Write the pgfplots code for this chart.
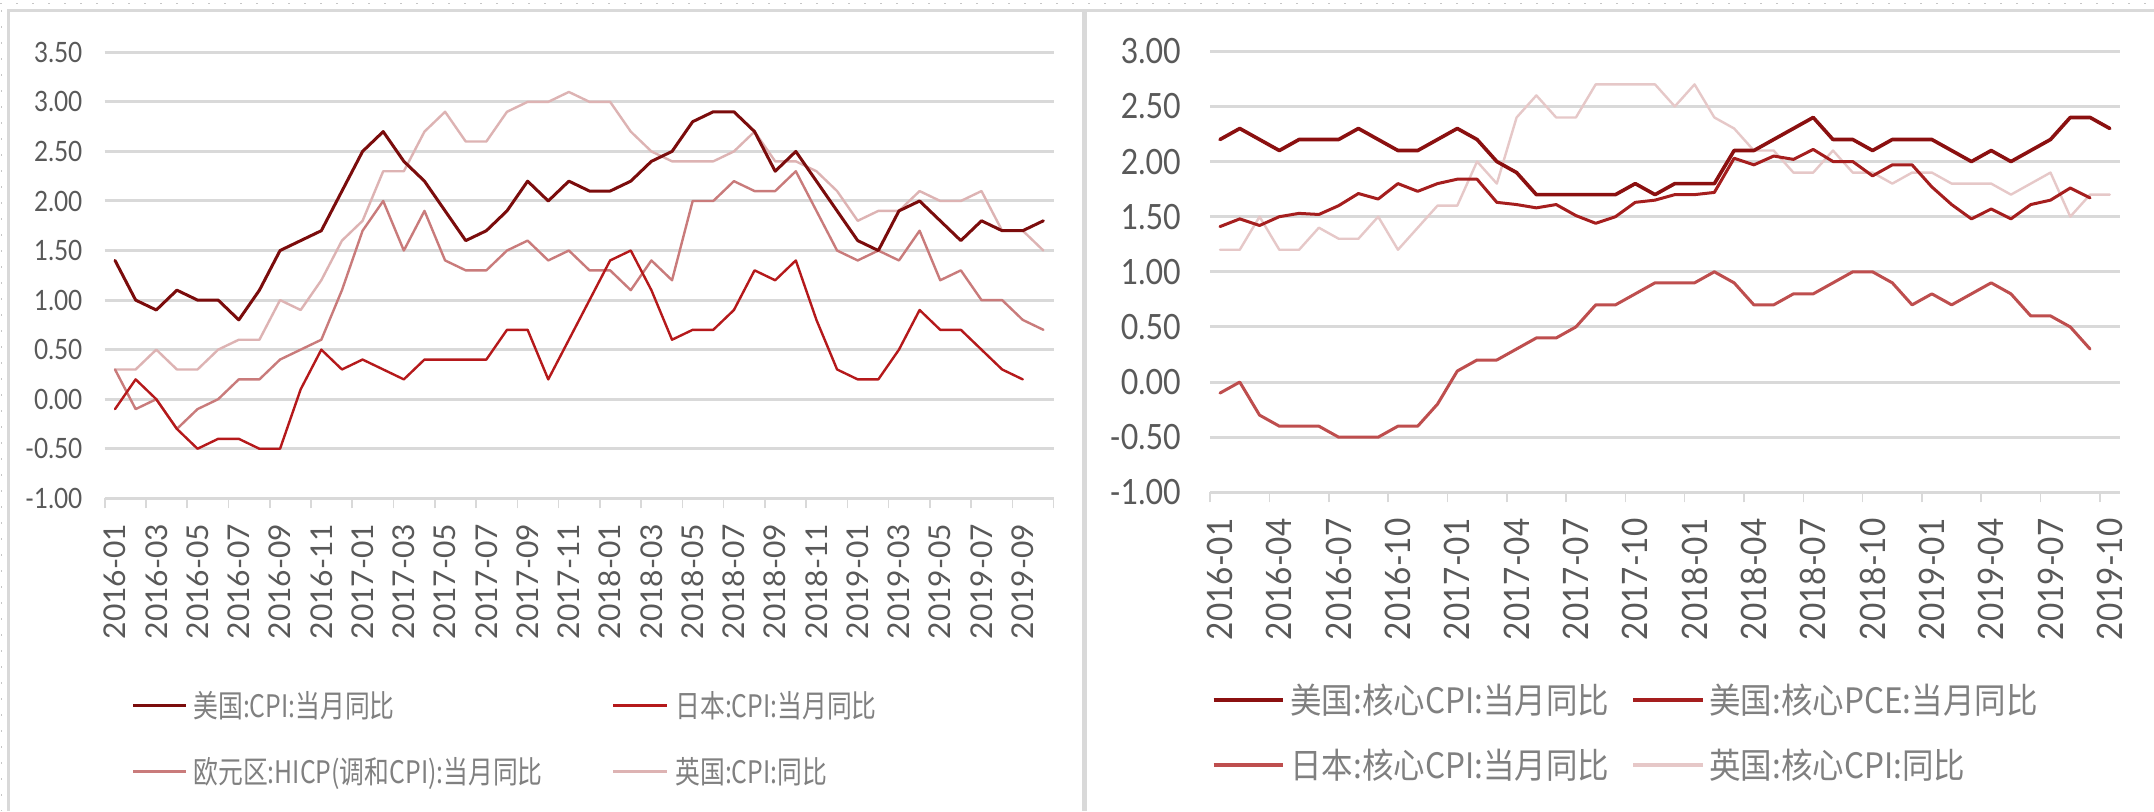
\documentclass[border=0pt]{standalone}
\usepackage{pgfplots}
\pgfplotsset{compat=1.18}
\usepackage{pgfplotstable}
\usepackage{fontspec}
\setmainfont{Lato}
\newfontfamily\tickY{Lato}[FakeStretch=0.87]
\newfontfamily\tickXR{Lato}[FakeStretch=0.9]
\newfontfamily\cjkL{Noto Sans CJK SC}[FakeStretch=0.8]
\newfontfamily\cjkR{Noto Sans CJK SC}[FakeStretch=0.9]
\definecolor{gridc}{HTML}{D9D9D9}
\definecolor{labc}{HTML}{595959}
\definecolor{legc}{HTML}{808080}
\definecolor{usL}{HTML}{7B0C0C}
\definecolor{jpL}{HTML}{B5191B}
\definecolor{euL}{HTML}{C97B7B}
\definecolor{ukL}{HTML}{DDB3B3}
\definecolor{usR}{HTML}{8B1010}
\definecolor{pceR}{HTML}{A51E1E}
\definecolor{jpR}{HTML}{BE4E4E}
\definecolor{ukR}{HTML}{E6C8C8}

\pgfplotstableread{
i us jp eu uk
0 1.4 -0.1 0.3 0.3
1 1.0 0.2 -0.1 0.3
2 0.9 0.0 0.0 0.5
3 1.1 -0.3 -0.3 0.3
4 1.0 -0.5 -0.1 0.3
5 1.0 -0.4 0.0 0.5
6 0.8 -0.4 0.2 0.6
7 1.1 -0.5 0.2 0.6
8 1.5 -0.5 0.4 1.0
9 1.6 0.1 0.5 0.9
10 1.7 0.5 0.6 1.2
11 2.1 0.3 1.1 1.6
12 2.5 0.4 1.7 1.8
13 2.7 0.3 2.0 2.3
14 2.4 0.2 1.5 2.3
15 2.2 0.4 1.9 2.7
16 1.9 0.4 1.4 2.9
17 1.6 0.4 1.3 2.6
18 1.7 0.4 1.3 2.6
19 1.9 0.7 1.5 2.9
20 2.2 0.7 1.6 3.0
21 2.0 0.2 1.4 3.0
22 2.2 0.6 1.5 3.1
23 2.1 1.0 1.3 3.0
24 2.1 1.4 1.3 3.0
25 2.2 1.5 1.1 2.7
26 2.4 1.1 1.4 2.5
27 2.5 0.6 1.2 2.4
28 2.8 0.7 2.0 2.4
29 2.9 0.7 2.0 2.4
30 2.9 0.9 2.2 2.5
31 2.7 1.3 2.1 2.7
32 2.3 1.2 2.1 2.4
33 2.5 1.4 2.3 2.4
34 2.2 0.8 1.9 2.3
35 1.9 0.3 1.5 2.1
36 1.6 0.2 1.4 1.8
37 1.5 0.2 1.5 1.9
38 1.9 0.5 1.4 1.9
39 2.0 0.9 1.7 2.1
40 1.8 0.7 1.2 2.0
41 1.6 0.7 1.3 2.0
42 1.8 0.5 1.0 2.1
43 1.7 0.3 1.0 1.7
44 1.7 0.2 0.8 1.7
45 1.8 nan 0.7 1.5
}\lefttab

\pgfplotstableread{
i us pce jp uk
0 2.2 1.41 -0.1 1.2
1 2.3 1.48 0.0 1.2
2 2.2 1.42 -0.3 1.5
3 2.1 1.50 -0.4 1.2
4 2.2 1.53 -0.4 1.2
5 2.2 1.52 -0.4 1.4
6 2.2 1.60 -0.5 1.3
7 2.3 1.71 -0.5 1.3
8 2.2 1.66 -0.5 1.5
9 2.1 1.80 -0.4 1.2
10 2.1 1.73 -0.4 1.4
11 2.2 1.80 -0.2 1.6
12 2.3 1.84 0.1 1.6
13 2.2 1.84 0.2 2.0
14 2.0 1.63 0.2 1.8
15 1.9 1.61 0.3 2.4
16 1.7 1.58 0.4 2.6
17 1.7 1.61 0.4 2.4
18 1.7 1.51 0.5 2.4
19 1.7 1.44 0.7 2.7
20 1.7 1.50 0.7 2.7
21 1.8 1.63 0.8 2.7
22 1.7 1.65 0.9 2.7
23 1.8 1.70 0.9 2.5
24 1.8 1.70 0.9 2.7
25 1.8 1.72 1.0 2.4
26 2.1 2.03 0.9 2.3
27 2.1 1.97 0.7 2.1
28 2.2 2.05 0.7 2.1
29 2.3 2.02 0.8 1.9
30 2.4 2.11 0.8 1.9
31 2.2 2.00 0.9 2.1
32 2.2 2.00 1.0 1.9
33 2.1 1.87 1.0 1.9
34 2.2 1.97 0.9 1.8
35 2.2 1.97 0.7 1.9
36 2.2 1.77 0.8 1.9
37 2.1 1.61 0.7 1.8
38 2.0 1.48 0.8 1.8
39 2.1 1.57 0.9 1.8
40 2.0 1.48 0.8 1.7
41 2.1 1.61 0.6 1.8
42 2.2 1.65 0.6 1.9
43 2.4 1.76 0.5 1.5
44 2.4 1.67 0.3 1.7
45 2.3 nan nan 1.7
}\righttab

\newcommand{\pp}[2]{({(#1)*0.5pt},{(811-(#2))*0.5pt})}

\pgfplotsset{
  panel/.style={
    scale only axis, anchor=south west,
    xmin=-0.5, xmax=45.5,
    axis line style={draw=none},
    ymajorgrids, grid style={draw=gridc, line width=1.5pt},
    tick align=outside, xtick pos=left, ytick pos=left,
    major tick length=0pt, minor tick length=5pt,
    ytick style={draw=none},
    minor tick style={draw=gridc, line width=0.8pt},
    yticklabel style={text=labc, anchor=east, inner sep=0pt},
    xticklabel style={text=labc, rotate=90, anchor=east, inner sep=0pt},
    xticklabel shift=12.5pt,
    every axis plot/.append style={line join=round, line cap=round},
  }
}

\begin{document}
\begin{tikzpicture}
\useasboundingbox (0,0) rectangle (1077pt,405.5pt);
\fill[white] (0,0) rectangle (1077pt,405.5pt);
% frame
\draw[gray!45, line width=0.5pt, dash pattern=on 1pt off 7pt] \pp{0}{4} -- \pp{2154}{4};
\draw[gray!45, line width=0.5pt, dash pattern=on 1pt off 7pt] \pp{1}{10} -- \pp{1}{811};
\draw[gridc, line width=1.5pt] \pp{7}{10.5} -- \pp{2154}{10.5};
\draw[gridc, line width=1.5pt] \pp{8.5}{10} -- \pp{8.5}{811};
\draw[gridc, line width=2.5pt] \pp{1084.5}{10} -- \pp{1084.5}{811};

% ---------- left panel ----------
\begin{axis}[panel,
  at={(52.35pt,156.35pt)}, width=474.5pt, height=223pt,
  ymin=-1, ymax=3.5,
  ytick={-1,-0.5,0,0.5,1,1.5,2,2.5,3,3.5},
  yticklabels={-1.00,-0.50,0.00,0.50,1.00,1.50,2.00,2.50,3.00,3.50},
  yticklabel style={font=\tickY\fontsize{14}{14}\selectfont, xshift=-11pt},
  xtick={0,2,...,44},
  xticklabels={2016-01,2016-03,2016-05,2016-07,2016-09,2016-11,2017-01,2017-03,2017-05,2017-07,2017-09,2017-11,2018-01,2018-03,2018-05,2018-07,2018-09,2018-11,2019-01,2019-03,2019-05,2019-07,2019-09},
  xticklabel style={font=\fontsize{15}{15}\selectfont},
  minor xtick={-0.5,1.5,...,45.5},
]
\addplot[ukL, line width=1.2pt] table[x=i,y=uk]{\lefttab};
\addplot[euL, line width=1.2pt] table[x=i,y=eu]{\lefttab};
\addplot[jpL, line width=1.2pt] table[x=i,y=jp]{\lefttab};
\addplot[usL, line width=1.5pt] table[x=i,y=us]{\lefttab};
\end{axis}

% ---------- right panel ----------
\begin{axis}[panel,
  at={(605.05pt,159.35pt)}, width=454.8pt, height=220.5pt,
  ymin=-1, ymax=3,
  ytick={-1,-0.5,0,0.5,1,1.5,2,2.5,3},
  yticklabels={-1.00,-0.50,0.00,0.50,1.00,1.50,2.00,2.50,3.00},
  yticklabel style={font=\tickY\fontsize{17.4}{17.4}\selectfont, xshift=-14.5pt},
  xtick={0,3,...,45},
  xticklabels={2016-01,2016-04,2016-07,2016-10,2017-01,2017-04,2017-07,2017-10,2018-01,2018-04,2018-07,2018-10,2019-01,2019-04,2019-07,2019-10},
  xticklabel style={font=\tickXR\fontsize{17.5}{17.5}\selectfont},
  xticklabel shift=13pt,
  minor xtick={-0.5,2.5,...,44.5},
]
\addplot[ukR, line width=1.2pt] table[x=i,y=uk]{\righttab};
\addplot[jpR, line width=1.5pt] table[x=i,y=jp]{\righttab};
\addplot[pceR, line width=1.5pt] table[x=i,y=pce]{\righttab};
\addplot[usR, line width=1.8pt] table[x=i,y=us]{\righttab};
\end{axis}

% ---------- legends ----------
\begin{scope}[every node/.style={anchor=base west, inner sep=0pt, text=legc}]
\draw[usL, line width=1.5pt] \pp{133}{705} -- \pp{186}{705};
\node[font=\cjkL\fontsize{15.5}{15.5}\selectfont] at \pp{193}{717} {美国:CPI:当月同比};
\draw[jpL, line width=1.5pt] \pp{613}{705} -- \pp{667}{705};
\node[font=\cjkL\fontsize{15.5}{15.5}\selectfont] at \pp{675}{717} {日本:CPI:当月同比};
\draw[euL, line width=1.5pt] \pp{133}{771} -- \pp{186}{771};
\node[font=\cjkL\fontsize{15.5}{15.5}\selectfont] at \pp{193}{783} {欧元区:HICP(调和CPI):当月同比};
\draw[ukL, line width=1.5pt] \pp{613}{771} -- \pp{667}{771};
\node[font=\cjkL\fontsize{15.5}{15.5}\selectfont] at \pp{675}{783} {英国:CPI:同比};

\draw[usR, line width=1.8pt] \pp{1213.6}{700} -- \pp{1283.4}{700};
\node[font=\cjkR\fontsize{17.5}{17.5}\selectfont] at \pp{1290}{713.3} {美国:核心CPI:当月同比};
\draw[pceR, line width=1.8pt] \pp{1633}{700} -- \pp{1703}{700};
\node[font=\cjkR\fontsize{17.5}{17.5}\selectfont] at \pp{1709}{713.3} {美国:核心PCE:当月同比};
\draw[jpR, line width=1.8pt] \pp{1213.6}{765} -- \pp{1283.4}{765};
\node[font=\cjkR\fontsize{17.5}{17.5}\selectfont] at \pp{1290}{778.3} {日本:核心CPI:当月同比};
\draw[ukR, line width=1.8pt] \pp{1633}{765} -- \pp{1703}{765};
\node[font=\cjkR\fontsize{17.5}{17.5}\selectfont] at \pp{1709}{778.3} {英国:核心CPI:同比};
\end{scope}
\end{tikzpicture}
\end{document}
